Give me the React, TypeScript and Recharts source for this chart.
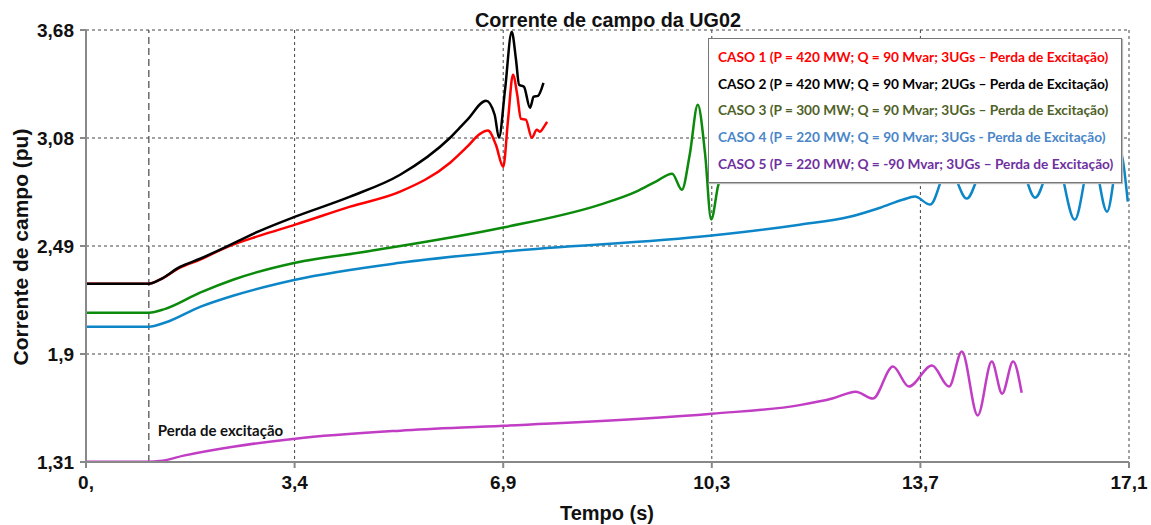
import {
  CartesianGrid,
  Label,
  Line,
  LineChart,
  ReferenceLine,
  XAxis,
  YAxis,
} from "recharts";

// tempo (s) x corrente de campo (pu)
const CASO1 = [
  [0, 2.288], [1.03, 2.288], [1.21, 2.31], [1.54, 2.376], [1.87, 2.42],
  [2.33, 2.492], [2.85, 2.552], [3.43, 2.612], [4.33, 2.711], [5.15, 2.793],
  [5.97, 2.952], [6.25, 3.04], [6.46, 3.11], [6.59, 3.128], [6.72, 3.05],
  [6.84, 2.929], [6.92, 3.19], [7.0, 3.435], [7.07, 3.325], [7.13, 3.193],
  [7.21, 3.188], [7.31, 3.089], [7.39, 3.133], [7.44, 3.122], [7.51, 3.15],
  [7.56, 3.176],
];

const CASO2 = [
  [0, 2.288], [1.03, 2.288], [1.21, 2.31], [1.54, 2.38], [1.87, 2.425],
  [2.2, 2.475], [2.85, 2.578], [3.43, 2.656], [4.33, 2.766], [5.15, 2.886],
  [5.97, 3.089], [6.25, 3.187], [6.56, 3.292], [6.7, 3.215], [6.77, 3.089],
  [6.87, 3.352], [6.98, 3.67], [7.05, 3.517], [7.1, 3.38], [7.18, 3.369],
  [7.28, 3.253], [7.34, 3.314], [7.41, 3.319], [7.5, 3.39],
];

const CASO3 = [
  [0, 2.129], [1.03, 2.129], [1.3, 2.15], [1.87, 2.239], [2.41, 2.31],
  [3.43, 2.403], [4.63, 2.466], [6.84, 2.596], [8.43, 2.722], [9.02, 2.793],
  [9.35, 2.85], [9.61, 2.892], [9.77, 2.804], [9.9, 3.0], [10.03, 3.27],
  [10.15, 3.0], [10.25, 2.64], [10.36, 2.82], [10.48, 2.96],
];

const CASO4 = [
  [0, 2.052], [1.03, 2.052], [1.3, 2.075], [1.87, 2.161], [2.41, 2.222],
  [3.43, 2.31], [5.15, 2.403], [6.84, 2.464], [10.26, 2.552], [11.7, 2.612],
  [12.52, 2.655], [13.02, 2.705], [13.4, 2.75], [13.59, 2.766], [13.84, 2.722],
  [14.14, 2.93], [14.44, 2.755], [14.74, 2.94], [15.0, 2.87], [15.28, 2.96],
  [15.56, 2.76], [15.89, 2.99], [16.21, 2.639], [16.49, 3.0], [16.74, 2.683],
  [16.95, 3.02], [17.08, 2.738],
];

const CASO5 = [
  [0, 1.312], [1.03, 1.312], [1.21, 1.315], [1.6, 1.345], [2.41, 1.394],
  [3.43, 1.438], [5.15, 1.482], [6.84, 1.509], [10.26, 1.575], [11.7, 1.622],
  [12.25, 1.66], [12.62, 1.696], [12.9, 1.658], [13.23, 1.834], [13.49, 1.724],
  [13.87, 1.839], [14.15, 1.724], [14.36, 1.916], [14.62, 1.565], [14.85, 1.861],
  [15.02, 1.685], [15.2, 1.861], [15.34, 1.69],
];

const SERIES = [CASO1, CASO2, CASO3, CASO4, CASO5];
const LINE_COLORS = ["#ff0000", "#000000", "#0b8a0b", "#0d86c8", "#c13dc4"];
const LEGEND_COLORS = ["#ff0000", "#000000", "#4f6228", "#4a86c8", "#7030a0"];
const NAMES = [
  "CASO 1 (P = 420 MW; Q = 90 Mvar; 3UGs – Perda de Excitação)",
  "CASO 2 (P = 420 MW; Q = 90 Mvar; 2UGs – Perda de Excitação)",
  "CASO 3 (P = 300 MW; Q = 90 Mvar; 3UGs – Perda de Excitação)",
  "CASO 4 (P = 220 MW; Q = 90 Mvar; 3UGs - Perda de Excitação)",
  "CASO 5 (P = 220 MW; Q = -90 Mvar; 3UGs – Perda de Excitação)",
];

const T_TICKS = [0, 3.42, 6.84, 10.26, 13.68, 17.1];
const T_LABELS = ["0,", "3,4", "6,9", "10,3", "13,7", "17,1"];
const I_TICKS = [1.31, 1.9025, 2.495, 3.0875, 3.68];
const I_LABELS = ["1,31", "1,9", "2,49", "3,08", "3,68"];
const T_EVENT = 1.03;

const axisFont = {
  fontFamily: "'Liberation Sans', Arial, sans-serif",
  fontWeight: 700,
  fontSize: 19,
  fill: "#111",
};

export default function App() {
  return (
    <div
      style={{
        position: "absolute",
        left: 0,
        top: 0,
        width: 1151,
        height: 525,
        background: "#fff",
      }}
    >
      <LineChart
        width={1151}
        height={525}
        margin={{ top: 30, right: 22, bottom: 0, left: 0 }}
      >
        <CartesianGrid stroke="#444" strokeDasharray="3 3" />
        <XAxis
          type="number"
          dataKey="t"
          domain={[0, 17.1]}
          ticks={T_TICKS}
          interval={0}
          height={63}
          tickFormatter={(v) => T_LABELS[T_TICKS.indexOf(v)]}
          tick={axisFont}
          tickSize={6}
          tickMargin={8}
          stroke="#888"
          strokeWidth={2}
        >
          <Label
            content={() => (
              <text
                x={607}
                y={520}
                textAnchor="middle"
                style={{ ...axisFont, fontSize: 20 }}
              >
                Tempo (s)
              </text>
            )}
          />
        </XAxis>
        <YAxis
          type="number"
          domain={[1.31, 3.68]}
          ticks={I_TICKS}
          interval={0}
          width={86}
          tickFormatter={(v) => I_LABELS[I_TICKS.indexOf(v)]}
          tick={axisFont}
          tickSize={6}
          tickMargin={6}
          stroke="#888"
          strokeWidth={2}
        >
          <Label
            content={() => (
              <text
                x={28}
                y={247}
                transform="rotate(-90 28 247)"
                textAnchor="middle"
                style={{ ...axisFont, fontSize: 21 }}
              >
                Corrente de campo (pu)
              </text>
            )}
          />
        </YAxis>
        <ReferenceLine
          x={T_EVENT}
          stroke="#555"
          strokeDasharray="7 4"
          strokeWidth={1.3}
          label={(props: any) => (
            <text
              x={props.viewBox.x + 9}
              y={436}
              style={{
                fontFamily: "Lato, sans-serif",
                fontWeight: 700,
                fontSize: 15,
                fill: "#111",
              }}
            >
              Perda de excitação
            </text>
          )}
        />
        {SERIES.map((s, i) => (
          <Line
            key={i}
            data={s.map(([t, v]) => ({ t, v }))}
            dataKey="v"
            name={NAMES[i]}
            type="monotone"
            stroke={LINE_COLORS[i]}
            strokeWidth={2.5}
            dot={false}
            isAnimationActive={false}
          />
        ))}
      </LineChart>

      <div
        style={{
          position: "absolute",
          left: 0,
          top: 10,
          width: 1216,
          textAlign: "center",
          fontFamily: "'Liberation Sans', Arial, sans-serif",
          fontWeight: 700,
          fontSize: 19.8,
          lineHeight: "20px",
          color: "#111",
        }}
      >
        Corrente de campo da UG02
      </div>

      <div
        style={{
          position: "absolute",
          left: 708,
          top: 38,
          width: 414,
          height: 145,
          background: "#fff",
          border: "1px solid #777",
          boxShadow: "1px 1px 1px #bbb",
          padding: "5px 0 0 9px",
          boxSizing: "border-box",
          fontFamily: "Lato, sans-serif",
          fontWeight: 700,
          fontSize: 13.7,
          lineHeight: "26.7px",
          whiteSpace: "nowrap",
        }}
      >
        {NAMES.map((n, i) => (
          <div key={i} style={{ color: LEGEND_COLORS[i] }}>
            {n}
          </div>
        ))}
      </div>
    </div>
  );
}
